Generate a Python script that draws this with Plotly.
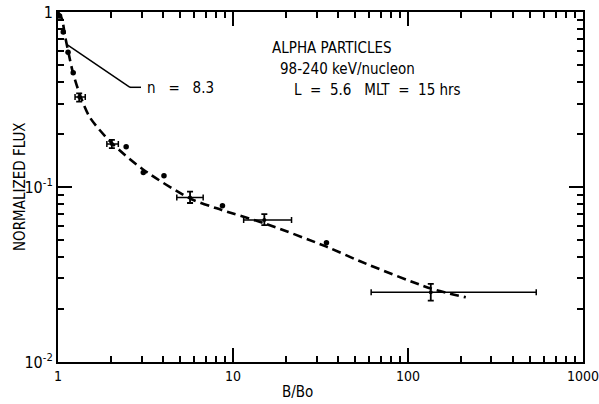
import plotly.graph_objects as go

# Individual data points (no error bars)
dot_x = [1.02, 1.07, 1.14, 1.22, 2.45, 3.07, 4.03, 8.7, 34.2]
dot_y = [0.95, 0.77, 0.59, 0.45, 0.170, 0.121, 0.116, 0.078, 0.048]

# Points with error bars
err_x = [1.32, 2.03, 5.68, 15.1, 135]
err_y = [0.327, 0.176, 0.087, 0.0648, 0.025]
err_x_lo = [1.25, 1.90, 4.77, 11.5, 61.6]
err_x_hi = [1.43, 2.21, 6.75, 21.6, 541]
err_y_lo = [0.308, 0.167, 0.081, 0.0605, 0.0224]
err_y_hi = [0.343, 0.186, 0.094, 0.070, 0.0279]

# Fitted dashed curve
fit_x = [1.0, 1.05, 1.096, 1.145, 1.213, 1.336, 1.52, 2.03, 3.06, 5.68, 8.07, 15.1, 34.2, 53.3, 135, 214]
fit_y = [1.0, 0.92, 0.73, 0.59, 0.455, 0.335, 0.25, 0.178, 0.126, 0.086, 0.0755, 0.062, 0.0456, 0.0376, 0.0263, 0.0234]

FONT = "DejaVu Sans Condensed, Liberation Sans Narrow, sans-serif"

fig = go.Figure()

fig.add_trace(go.Scatter(
    x=fit_x, y=fit_y, mode="lines",
    line=dict(color="black", width=2.6, dash="9px,5px", shape="spline", smoothing=0.8),
    hoverinfo="skip", showlegend=False))

fig.add_trace(go.Scatter(
    x=dot_x, y=dot_y, mode="markers",
    marker=dict(color="black", size=5.5), showlegend=False))

fig.add_trace(go.Scatter(
    x=err_x, y=err_y, mode="markers",
    marker=dict(color="black", size=4),
    error_x=dict(type="data", symmetric=False,
                 array=[h - c for h, c in zip(err_x_hi, err_x)],
                 arrayminus=[c - l for l, c in zip(err_x_lo, err_x)],
                 color="black", thickness=1.5, width=3),
    error_y=dict(type="data", symmetric=False,
                 array=[h - c for h, c in zip(err_y_hi, err_y)],
                 arrayminus=[c - l for l, c in zip(err_y_lo, err_y)],
                 color="black", thickness=1.8, width=3),
    showlegend=False))

axis_common = dict(
    type="log", showgrid=False, zeroline=False,
    showline=True, linecolor="black", linewidth=2, mirror="ticks",
    ticks="inside", ticklen=14, tickwidth=1.5, tickcolor="black",
    minor=dict(ticks="inside", ticklen=6, tickwidth=1.5, tickcolor="black", dtick="D1", showgrid=False),
    ticklabeloverflow="allow", automargin=False,
)

fig.update_xaxes(**axis_common, range=[-0.0005, 3.0005],
                 tickfont=dict(family=FONT, size=14, color="black"),
                 tickvals=[1, 10, 100, 1000], ticktext=["1", "10", "100", "1000"])
fig.update_yaxes(**axis_common, range=[-2.0005, 0.0005],
                 tickfont=dict(family=FONT, size=16, color="black"),
                 tickvals=[0.01, 0.1, 1], ticktext=["10<sup>-2</sup>", "10<sup>-1</sup>", "1"])

annotations = [
    dict(text="ALPHA PARTICLES", x=270, y=48),
    dict(text="98-240 keV/nucleon", x=278, y=69),
    dict(text="L  =  5.6   MLT  =  15 hrs", x=292, y=90),
    dict(text="n   =   8.3", x=145, y=88),
]
ann = []
for a in annotations:
    ann.append(dict(text=a["text"], xref="paper", yref="paper",
                    x=(a["x"] - 58) / 525, y=1 - (a["y"] - 12) / 350,
                    xanchor="left", yanchor="middle", showarrow=False,
                    font=dict(family=FONT, size=15, color="black")))
ann.append(dict(text="B/Bo", xref="paper", yref="paper", x=(297 - 58) / 525, y=-(392 - 362) / 350,
                xanchor="center", yanchor="middle", showarrow=False,
                font=dict(family=FONT, size=15, color="black")))
ann.append(dict(text="NORMALIZED FLUX", xref="paper", yref="paper", x=-(58 - 20) / 525, y=0.5,
                xanchor="center", yanchor="middle", textangle=-90, showarrow=False,
                font=dict(family=FONT, size=15, color="black")))

fig.update_layout(
    width=599, height=404,
    margin=dict(l=58, r=16, t=12, b=42, autoexpand=False),
    paper_bgcolor="white", plot_bgcolor="white",
    annotations=ann,
    shapes=[
        dict(type="line", xref="paper", yref="paper",
             x0=(66.7 - 58) / 525, y0=1 - (44.3 - 12) / 350,
             x1=(130 - 58) / 525, y1=1 - (87.3 - 12) / 350,
             line=dict(color="black", width=1.5)),
        dict(type="line", xref="paper", yref="paper",
             x0=(130 - 58) / 525, y0=1 - (87.3 - 12) / 350,
             x1=(141 - 58) / 525, y1=1 - (87.3 - 12) / 350,
             line=dict(color="black", width=1.5)),
    ],
)

fig.write_html("out.html")
